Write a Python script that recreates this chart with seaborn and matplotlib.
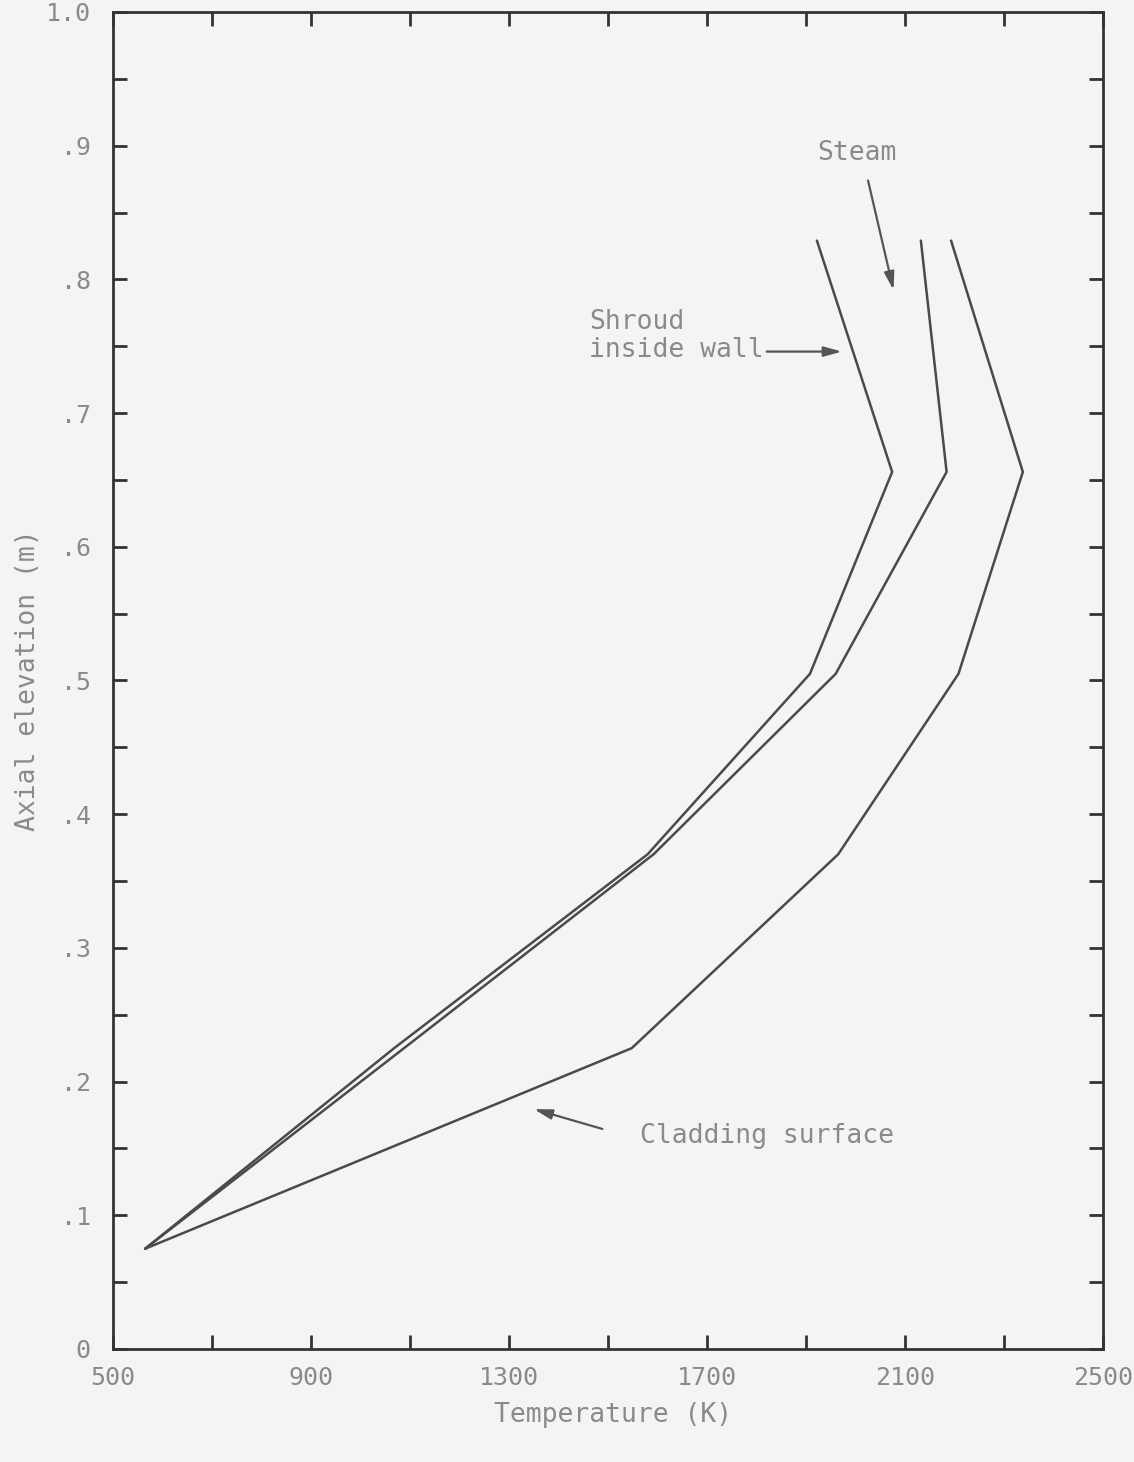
import matplotlib
matplotlib.use("Agg")
import matplotlib.pyplot as plt
import seaborn as sns
import pandas as pd
import numpy as np

# ---- data ----
elevation = [0.075, 0.225, 0.370, 0.505, 0.656, 0.829]
shroud_T = [565, 1068, 1580, 1908, 2074, 1922]
steam_T = [565, 1088, 1592, 1960, 2184, 2132]
cladding_T = [565, 1548, 1965, 2208, 2338, 2193]

x_ticks = [500, 900, 1300, 1700, 2100, 2500]
y_ticks = [0.0, 0.1, 0.2, 0.3, 0.4, 0.5, 0.6, 0.7, 0.8, 0.9, 1.0]
y_tick_labels = ["0", ".1", ".2", ".3", ".4", ".5", ".6", ".7", ".8", ".9", "1.0"]

series_names = ["Shroud inside wall", "Steam", "Cladding surface"]

rows = []
for name, temps in zip(series_names, [shroud_T, steam_T, cladding_T]):
    for i, (t, z) in enumerate(zip(temps, elevation)):
        rows.append({"series": name, "order": i, "T": t, "z": z})
df = pd.DataFrame(rows)

sns.set_theme(style="white")
plt.rcParams["font.family"] = ["DejaVu Sans Mono", "DejaVu Sans"]

bg = "#f4f4f2"
txt = "#8a8a8a"
line_c = "#4a4a4a"

fig = plt.figure(figsize=(11.34, 14.62), dpi=100, facecolor=bg)
ax = fig.add_axes([0.0996, 0.0773, 0.8731, 0.9145])
ax.set_facecolor(bg)

sns.lineplot(data=df, x="T", y="z", hue="series", units="series", estimator=None,
             sort=False, palette=[line_c] * 3, legend=False, linewidth=1.8, ax=ax)

ax.set_xlim(500, 2500)
ax.set_ylim(0, 1.0)
ax.set_xticks(x_ticks)
ax.set_xticks(np.arange(500, 2501, 200), minor=True)
ax.set_yticks(y_ticks)
ax.set_yticklabels(y_tick_labels)
ax.set_yticks(np.arange(0, 1.001, 0.05), minor=True)

ax.tick_params(which="both", direction="in", top=True, right=True, bottom=True, left=True,
               color="#333333", width=2, length=10, labelcolor=txt, labelsize=18)
ax.tick_params(axis="x", which="major", pad=12)
ax.tick_params(axis="y", which="major", pad=16)
for s in ax.spines.values():
    s.set_color("#333333")
    s.set_linewidth(2)

ax.set_xlabel("Temperature (K)", color=txt, fontsize=19)
ax.set_ylabel("Axial elevation (m)", color=txt, fontsize=19)
ax.xaxis.set_label_coords(0.505, -0.049)
ax.yaxis.set_label_coords(-0.086, 0.50)
ax.xaxis.label.set_va("center")
ax.yaxis.label.set_va("center")

# annotations
ax.text(2003, 0.8945, "Steam", color=txt, fontsize=19, ha="center", va="center")
ax.annotate("", xy=(2078, 0.790), xytext=(2024, 0.876),
            arrowprops=dict(arrowstyle="-|>,head_length=0.9,head_width=0.25", color="#555555", lw=1.6))
ax.text(1462, 0.758, "Shroud\ninside wall", color=txt, fontsize=19, ha="left", va="center",
        linespacing=1.1)
ax.annotate("", xy=(1978, 0.746), xytext=(1815, 0.746),
            arrowprops=dict(arrowstyle="-|>,head_length=0.9,head_width=0.25", color="#555555", lw=1.6))
ax.text(1565, 0.159, "Cladding surface", color=txt, fontsize=19, ha="left", va="center")
ax.annotate("", xy=(1345, 0.180), xytext=(1494, 0.164),
            arrowprops=dict(arrowstyle="-|>,head_length=0.9,head_width=0.25", color="#555555", lw=1.6))

fig.savefig("out.png", dpi=100, facecolor=bg)
